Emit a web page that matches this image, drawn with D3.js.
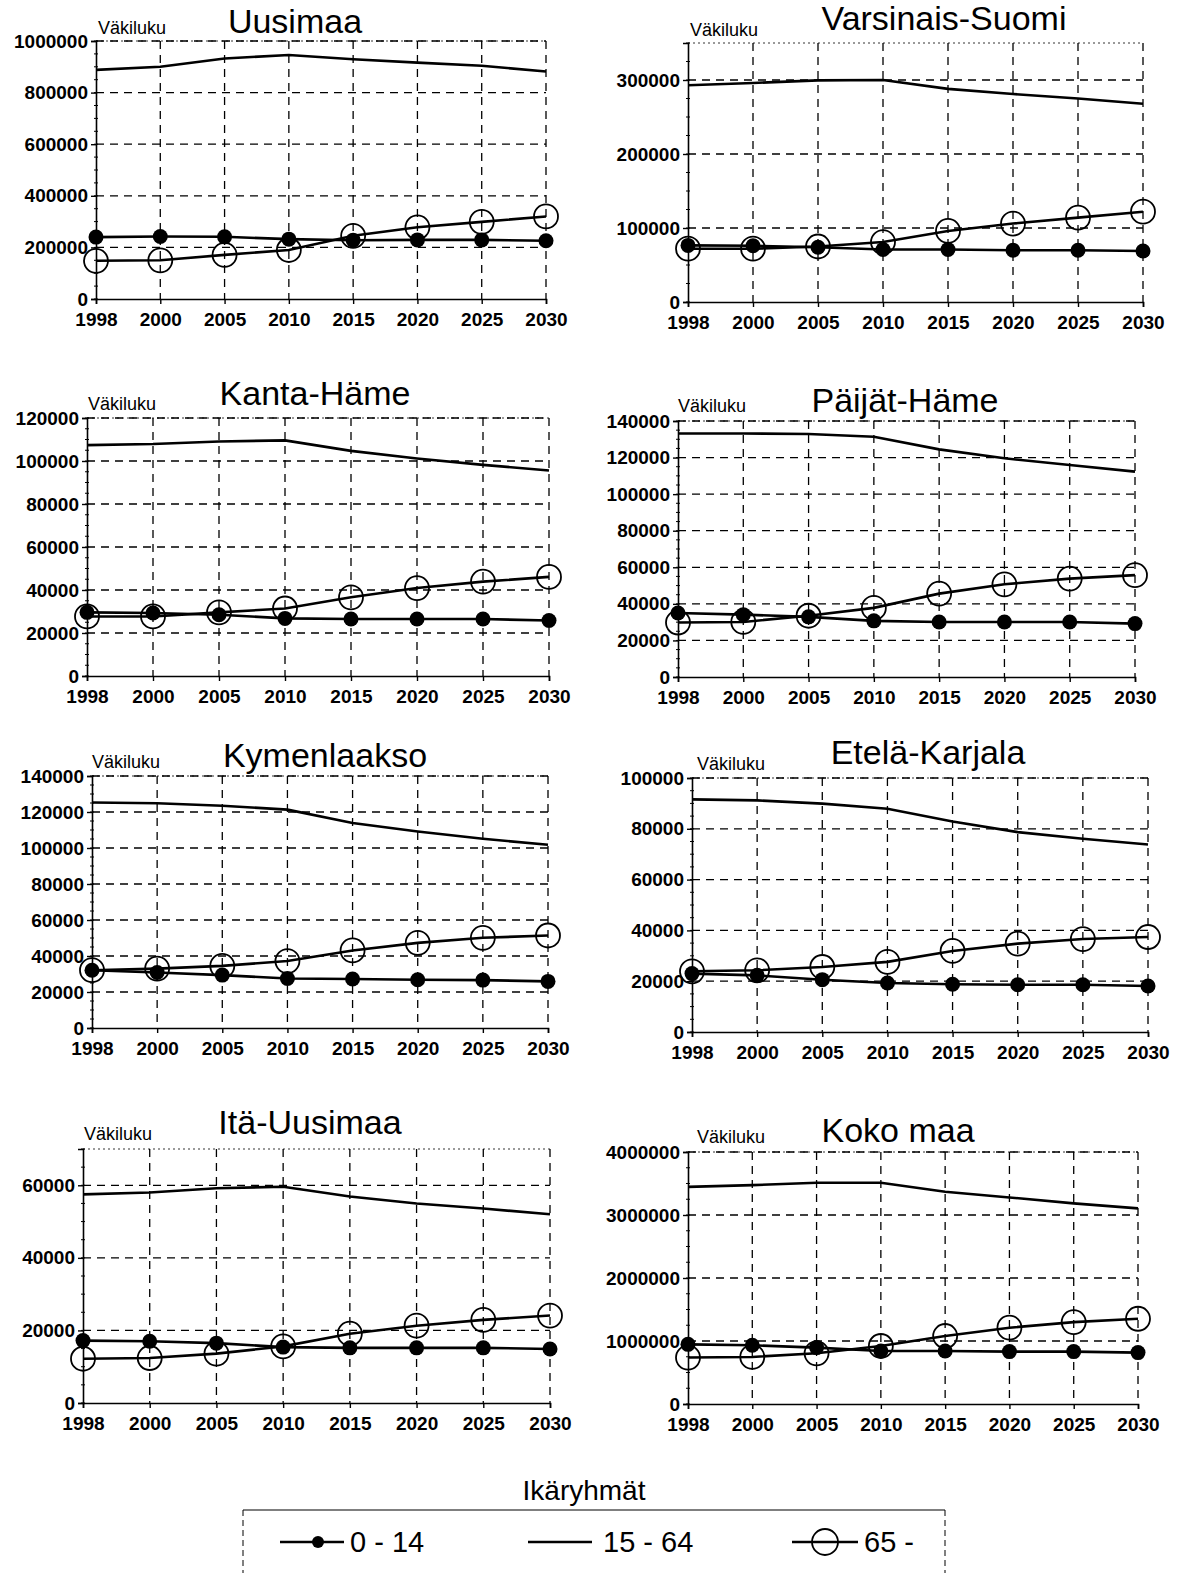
<!DOCTYPE html>
<html lang="fi">
<head>
<meta charset="UTF-8">
<title>Väkiluku ikäryhmittäin</title>
<script src="https://cdn.jsdelivr.net/npm/d3@7"></script>
<style>
  body { margin: 0; background: #fff; }
  text { font-family: "Liberation Sans", Arial, sans-serif; fill: #000; }
  .tick text { font-weight: bold; font-size: 19px; }
</style>
</head>
<body>
<svg id="chart" width="1181" height="1573" viewBox="0 0 1181 1573"></svg>
<script>
const years = ["1998", "2000", "2005", "2010", "2015", "2020", "2025", "2030"];
const regions = ["Uusimaa", "Varsinais-Suomi", "Kanta-Häme", "Päijät-Häme",
                 "Kymenlaakso", "Etelä-Karjala", "Itä-Uusimaa", "Koko maa"];
const yMax  = [1000000, 350000, 120000, 140000, 140000, 100000, 70000, 4000000];
const yStep = [200000, 100000, 20000, 20000, 20000, 20000, 20000, 1000000];

// age group 0 - 14
const age0_14 = [
  [240000, 242000, 241000, 232000, 228000, 229000, 229000, 226000],
  [76500, 76000, 74000, 71000, 71000, 70000, 70000, 69000],
  [29600, 29300, 28500, 26800, 26500, 26500, 26500, 25800],
  [35000, 34100, 32900, 30700, 30100, 30100, 30100, 29200],
  [32100, 30800, 29400, 27500, 27200, 26800, 26600, 25900],
  [23000, 22300, 20600, 19300, 18800, 18600, 18600, 18100],
  [17200, 17000, 16500, 15400, 15200, 15200, 15200, 14900],
  [947000, 932000, 895000, 842000, 842000, 832000, 832000, 816000]
];
// age group 15 - 64
const age15_64 = [
  [888000, 900000, 932000, 946000, 929000, 916000, 904000, 882000],
  [293000, 296000, 299500, 300000, 288000, 281000, 275000, 268000],
  [107400, 107900, 109100, 109600, 104700, 101200, 98200, 95600],
  [133200, 133200, 132900, 131400, 124500, 119600, 115900, 112300],
  [125300, 124900, 123500, 121300, 113900, 109200, 105100, 101800],
  [91600, 91200, 89900, 87900, 82900, 78700, 76100, 73800],
  [57500, 58000, 59200, 59600, 56900, 55000, 53600, 52000],
  [3447000, 3474000, 3511000, 3511000, 3368000, 3279000, 3184000, 3105000]
];
// age group 65 -
const age65 = [
  [148000, 150000, 171000, 190000, 245000, 278000, 299000, 320000],
  [72000, 72000, 75000, 81000, 96000, 106000, 114000, 122000],
  [27700, 27700, 29600, 31400, 36600, 40900, 43900, 46100],
  [29800, 30100, 33500, 37800, 45600, 50700, 53800, 55700],
  [32100, 33000, 34500, 37200, 43100, 47300, 50100, 51400],
  [23900, 24300, 25600, 27600, 31900, 34800, 36600, 37400],
  [12200, 12400, 13600, 15600, 19100, 21300, 22900, 24100],
  [737000, 747000, 805000, 921000, 1079000, 1211000, 1300000, 1353000]
];

const seriesNames = ["0 - 14", "15 - 64", "65 -"];
const axisTitle = "Väkiluku";
const legendTitle = "Ikäryhmät";

// plot frames in page pixels
const frames = [
  {x0: 96,  x1: 546,  top: 41,   bot: 299,  tx: 295, ty: 33,   lx: 98,  ly: 34},
  {x0: 688, x1: 1143, top: 43,   bot: 302,  tx: 944, ty: 30,   lx: 690, ly: 36},
  {x0: 87,  x1: 549,  top: 418,  bot: 676,  tx: 315, ty: 405,  lx: 88,  ly: 410},
  {x0: 678, x1: 1135, top: 421,  bot: 677,  tx: 905, ty: 412,  lx: 678, ly: 412},
  {x0: 92,  x1: 548,  top: 776,  bot: 1028, tx: 325, ty: 767,  lx: 92,  ly: 768},
  {x0: 692, x1: 1148, top: 778,  bot: 1032, tx: 928, ty: 764,  lx: 697, ly: 770},
  {x0: 83,  x1: 550,  top: 1149, bot: 1403, tx: 310, ty: 1134, lx: 84,  ly: 1140},
  {x0: 688, x1: 1138, top: 1152, bot: 1404, tx: 898, ty: 1142, lx: 697, ly: 1143}
];

let svg = d3.select('svg#chart');
svg.append('rect').attr('width', 1181).attr('height', 1573).attr('fill', '#fff');

regions.forEach(function (name, i) {
  let f = frames[i];
  let g = svg.append('g');
  let x = d3.scalePoint().domain(years).range([f.x0, f.x1]);
  let y = d3.scaleLinear().domain([0, yMax[i]]).range([f.bot, f.top]);
  let ticks = d3.range(0, yMax[i] + 1, yStep[i]);

  // dashed grid
  g.append('g').selectAll('line')
    .data(ticks.filter(function (t) { return t > 0; }))
    .enter().append('line')
    .attr('x1', f.x0).attr('x2', f.x1)
    .attr('y1', function (d) { return y(d); }).attr('y2', function (d) { return y(d); })
    .attr('stroke', '#000').attr('stroke-width', 1.3).attr('stroke-dasharray', '8,6');
  g.append('g').selectAll('line')
    .data(years.slice(1))
    .enter().append('line')
    .attr('x1', function (d) { return x(d); }).attr('x2', function (d) { return x(d); })
    .attr('y1', f.top).attr('y2', f.bot)
    .attr('stroke', '#000').attr('stroke-width', 1.3).attr('stroke-dasharray', '8,6');
  // thin dotted top border
  g.append('line').attr('x1', f.x0).attr('x2', f.x1).attr('y1', f.top).attr('y2', f.top)
    .attr('stroke', '#000').attr('stroke-width', 0.8).attr('stroke-dasharray', '2,3');

  // minor ticks on y axis
  g.append('g').selectAll('line')
    .data(d3.range(0, yMax[i] + 1, yStep[i] / 4))
    .enter().append('line')
    .attr('x1', f.x0 - 2).attr('x2', f.x0 + 2)
    .attr('y1', function (d) { return y(d); }).attr('y2', function (d) { return y(d); })
    .attr('stroke', '#000').attr('stroke-width', 1);

  // axes
  let yAxis = g.append('g').attr('transform', 'translate(' + f.x0 + ',0)')
    .call(d3.axisLeft(y).tickValues(ticks).tickSize(5).tickPadding(3).tickFormat(d3.format('d')));
  let xAxis = g.append('g').attr('transform', 'translate(0,' + f.bot + ')')
    .call(d3.axisBottom(x).tickSize(5).tickPadding(6));
  [yAxis, xAxis].forEach(function (a) {
    a.select('.domain').attr('stroke', '#000').attr('stroke-width', 1.6);
    a.selectAll('.tick line').attr('stroke', '#000').attr('stroke-width', 1.4);
  });
  xAxis.selectAll('.tick text').attr('dy', '0.85em');

  // titles
  g.append('text').attr('x', f.tx).attr('y', f.ty).attr('text-anchor', 'middle')
    .style('font-size', '34px').text(name);
  g.append('text').attr('x', f.lx).attr('y', f.ly)
    .style('font-size', '18px').text(axisTitle);

  let line = d3.line().x(function (d, j) { return x(years[j]); }).y(function (d) { return y(d); });
  [age15_64[i], age0_14[i], age65[i]].forEach(function (s) {
    g.append('path').datum(s).attr('d', line)
      .attr('fill', 'none').attr('stroke', '#000').attr('stroke-width', 2.6);
  });

  g.append('g').selectAll('circle')
    .data(age0_14[i]).enter().append('circle')
    .attr('cx', function (d, j) { return x(years[j]); })
    .attr('cy', function (d) { return y(d); })
    .attr('r', 7.5).attr('fill', '#000');
  g.append('g').selectAll('circle')
    .data(age65[i]).enter().append('circle')
    .attr('cx', function (d, j) { return x(years[j]); })
    .attr('cy', function (d) { return y(d); })
    .attr('r', 12).attr('fill', 'none').attr('stroke', '#000').attr('stroke-width', 1.8);
});

// legend
let lg = svg.append('g');
lg.append('text').attr('x', 584).attr('y', 1500).attr('text-anchor', 'middle')
  .style('font-size', '28px').text(legendTitle);
lg.append('line').attr('x1', 243).attr('x2', 945).attr('y1', 1510).attr('y2', 1510)
  .attr('stroke', '#000').attr('stroke-width', 1.2);
[243, 945].forEach(function (xx) {
  lg.append('line').attr('x1', xx).attr('x2', xx).attr('y1', 1510).attr('y2', 1573)
    .attr('stroke', '#000').attr('stroke-width', 1).attr('stroke-dasharray', '6,4');
});
let legendItems = [
  {x1: 280, x2: 344, tx: 350},
  {x1: 528, x2: 592, tx: 603},
  {x1: 792, x2: 858, tx: 864}
];
seriesNames.forEach(function (s, k) {
  let it = legendItems[k];
  lg.append('line').attr('x1', it.x1).attr('x2', it.x2).attr('y1', 1542).attr('y2', 1542)
    .attr('stroke', '#000').attr('stroke-width', 2.4);
  if (k === 0) {
    lg.append('circle').attr('cx', it.x1 + 38).attr('cy', 1542).attr('r', 6).attr('fill', '#000');
  }
  if (k === 2) {
    lg.append('circle').attr('cx', (it.x1 + it.x2) / 2).attr('cy', 1542).attr('r', 13)
      .attr('fill', 'none').attr('stroke', '#000').attr('stroke-width', 1.8);
  }
  lg.append('text').attr('x', it.tx).attr('y', 1552).style('font-size', '29px').text(s);
});
</script>
</body>
</html>
